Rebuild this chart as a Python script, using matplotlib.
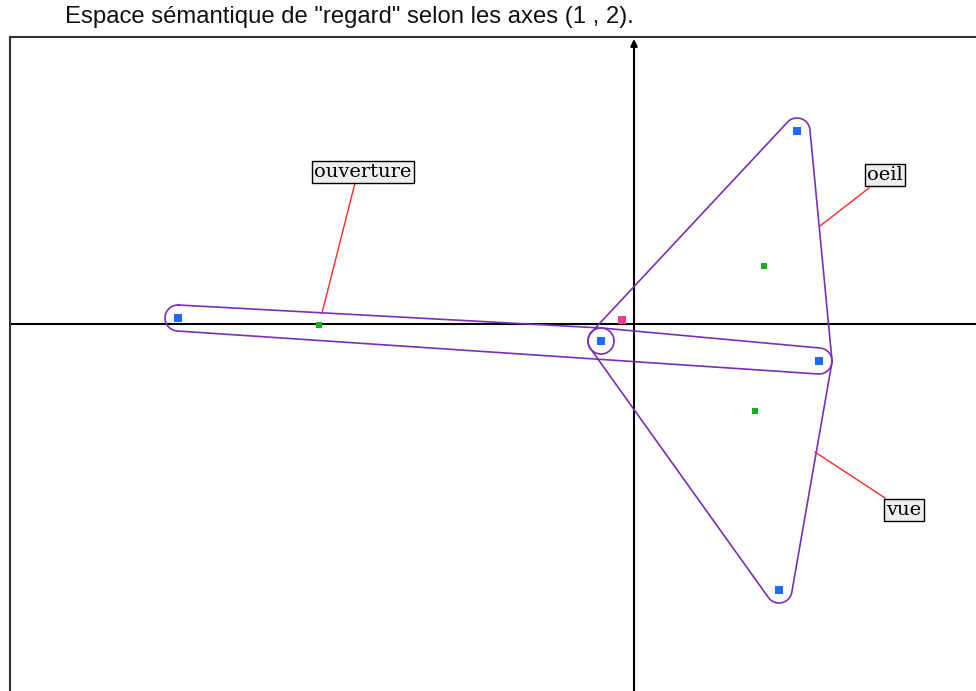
import numpy as np
import matplotlib
matplotlib.use('Agg')
import matplotlib.pyplot as plt

# word points (blue), context points (green), centre (pink) -- axis 1 / axis 2 scores
word_x = [-4.56, -0.33, 1.63, 1.85, 1.45]
word_y = [0.06, -0.17, 1.93, -0.37, -2.66]
ctx_x = [-3.15, 1.30, 1.21]
ctx_y = [-0.01, 0.58, -0.87]
centre_x = [-0.12]
centre_y = [0.04]

# groups drawn as rounded hulls (indices into word points)
groups = [[0, 1, 3], [1], [1, 2, 3, 4]]

labels = ['ouverture', 'oeil', 'vue']
label_x = [-2.71, 2.51, 2.70]
label_y = [1.52, 1.49, -1.86]
leader_x0 = [-2.79, 2.35, 2.51]
leader_y0 = [1.41, 1.36, -1.74]
leader_x1 = [-3.12, 1.86, 1.81]
leader_y1 = [0.11, 0.98, -1.28]

title = 'Espace sémantique de "regard" selon les axes (1 , 2).'

XLIM = (-6.24, 3.42)
YLIM = (-3.67, 2.87)
RADIUS = 0.13


def convex_hull(pts):
    pts = sorted(set(map(tuple, pts)))
    if len(pts) <= 2:
        return np.array(pts)

    def cross(o, a, b):
        return (a[0] - o[0]) * (b[1] - o[1]) - (a[1] - o[1]) * (b[0] - o[0])

    lower, upper = [], []
    for p in pts:
        while len(lower) >= 2 and cross(lower[-2], lower[-1], p) <= 0:
            lower.pop()
        lower.append(p)
    for p in reversed(pts):
        while len(upper) >= 2 and cross(upper[-2], upper[-1], p) <= 0:
            upper.pop()
        upper.append(p)
    return np.array(lower[:-1] + upper[:-1])


def rounded_hull(pts, r, n=30):
    hull = convex_hull(pts)
    if len(hull) == 1:
        t = np.linspace(0, 2 * np.pi, 4 * n)
        return hull[0][0] + r * np.cos(t), hull[0][1] + r * np.sin(t)
    xs, ys = [], []
    m = len(hull)
    for i in range(m):
        p_prev, p, p_next = hull[i - 1], hull[i], hull[(i + 1) % m]
        d_in = p - p_prev
        d_out = p_next - p
        a0 = np.arctan2(-d_in[0], d_in[1])
        a1 = np.arctan2(-d_out[0], d_out[1])
        if a1 < a0:
            a1 += 2 * np.pi
        t = np.linspace(a0, a1, n)
        xs.extend(p[0] + r * np.cos(t))
        ys.extend(p[1] + r * np.sin(t))
    xs.append(xs[0])
    ys.append(ys[0])
    return np.array(xs), np.array(ys)


fig = plt.figure(figsize=(9.76, 6.91), dpi=100)
ax = fig.add_axes([10 / 976, 0, 966 / 976, 654 / 691])
ax.set_xlim(*XLIM)
ax.set_ylim(*YLIM)
ax.set_xticks([])
ax.set_yticks([])
for side in ['right', 'bottom']:
    ax.spines[side].set_visible(False)
for side in ['left', 'top']:
    ax.spines[side].set_color('#333333')
    ax.spines[side].set_linewidth(1.5)

# axes
ax.axhline(0, color='black', lw=1.5, zorder=1)
ax.annotate('', xy=(0, YLIM[1] - 0.02), xytext=(0, YLIM[0]),
            arrowprops=dict(arrowstyle='-|>', color='black', lw=1.5,
                            mutation_scale=10, shrinkA=0, shrinkB=0), zorder=1)

wpts = np.column_stack([word_x, word_y])
for g in groups:
    hx, hy = rounded_hull(wpts[g], RADIUS)
    ax.plot(hx, hy, color='#7a2fb8', lw=1.2, zorder=2)

for i, lab in enumerate(labels):
    ax.plot([leader_x0[i], leader_x1[i]], [leader_y0[i], leader_y1[i]],
            color='#ff2a2a', lw=1, zorder=3)
    ax.text(label_x[i], label_y[i], lab, ha='center', va='center',
            family='DejaVu Serif', fontsize=14, zorder=5,
            bbox=dict(boxstyle='square,pad=0.1', facecolor='#eeeeee',
                      edgecolor='black', lw=1.0))

ax.plot(word_x, word_y, 's', color='#1a6cff', markersize=5.8, mew=0, zorder=4)
ax.plot(ctx_x, ctx_y, 's', color='#10b020', markersize=4.5, mew=0, zorder=4)
ax.plot(centre_x, centre_y, 's', color='#ff3a8c', markersize=5.5, mew=0, zorder=4)

fig.text(65 / 976, 1 - 17 / 691, title, ha='left', va='center',
         family='Liberation Sans', fontsize=17.2, color='#111111')

fig.savefig('out.png', dpi=100)
